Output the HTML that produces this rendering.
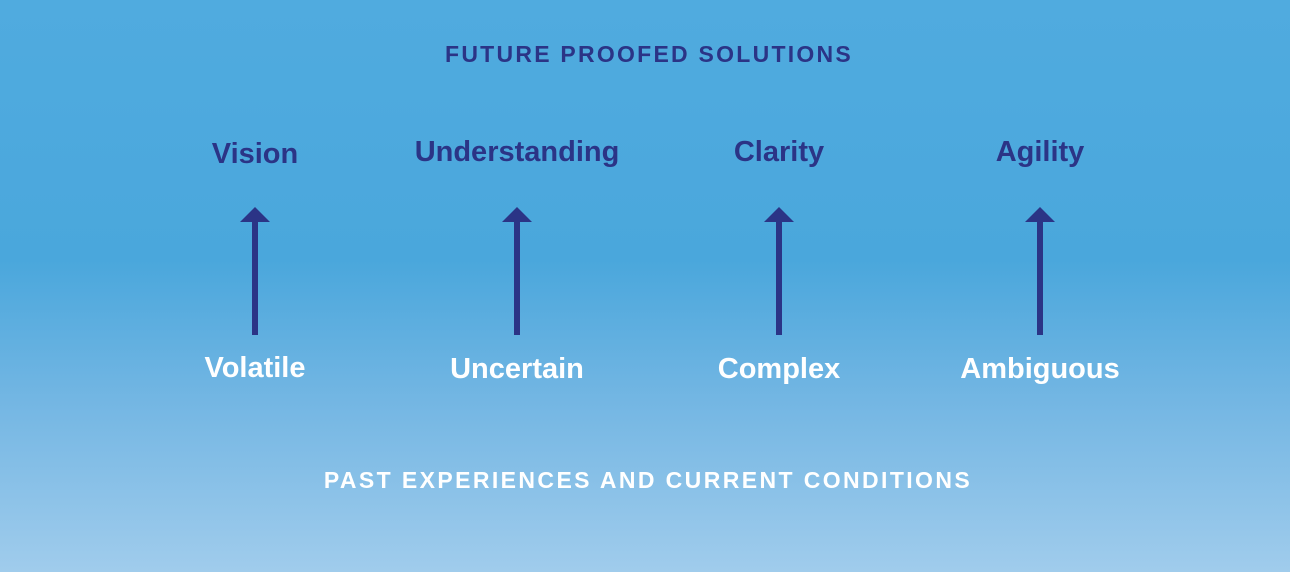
<!DOCTYPE html>
<html><head><style>
html,body{margin:0;padding:0}
body{width:1290px;height:572px;position:relative;overflow:hidden;
background:linear-gradient(to bottom,#50abdf 0px,#4aa7dc 260px,#73b6e3 400px,#a0ccec 572px);
font-family:"Liberation Sans",sans-serif}
.t{position:absolute;transform:translateX(-50%);white-space:nowrap}
.h{font-weight:bold;font-size:23px;letter-spacing:2.25px}
.top{color:#2b3486;font-size:29px;font-weight:bold;top:136px}
.bot{color:#fff;font-size:29px;font-weight:bold;top:353px}
</style></head><body>
<div class="t h" style="left:649px;top:41px;color:#2b3486">FUTURE PROOFED SOLUTIONS</div>
<div class="t h" style="left:648px;top:467px;color:#fff;letter-spacing:2.4px">PAST EXPERIENCES AND CURRENT CONDITIONS</div>
<div class="t top" style="left:255px;top:138px">Vision</div>
<div class="t top" style="left:517px">Understanding</div>
<div class="t top" style="left:779px">Clarity</div>
<div class="t top" style="left:1040px">Agility</div>
<div class="t bot" style="left:255px;top:352px">Volatile</div>
<div class="t bot" style="left:517px">Uncertain</div>
<div class="t bot" style="left:779px">Complex</div>
<div class="t bot" style="left:1040px">Ambiguous</div>
<svg width="1290" height="572" style="position:absolute;left:0;top:0">
<g fill="#2b3486">
<polygon points="240,222 270,222 255,207"/><rect x="252" y="221" width="6" height="114"/>
<polygon points="502,222 532,222 517,207"/><rect x="514" y="221" width="6" height="114"/>
<polygon points="764,222 794,222 779,207"/><rect x="776" y="221" width="6" height="114"/>
<polygon points="1025,222 1055,222 1040,207"/><rect x="1037" y="221" width="6" height="114"/>
</g></svg>
</body></html>
